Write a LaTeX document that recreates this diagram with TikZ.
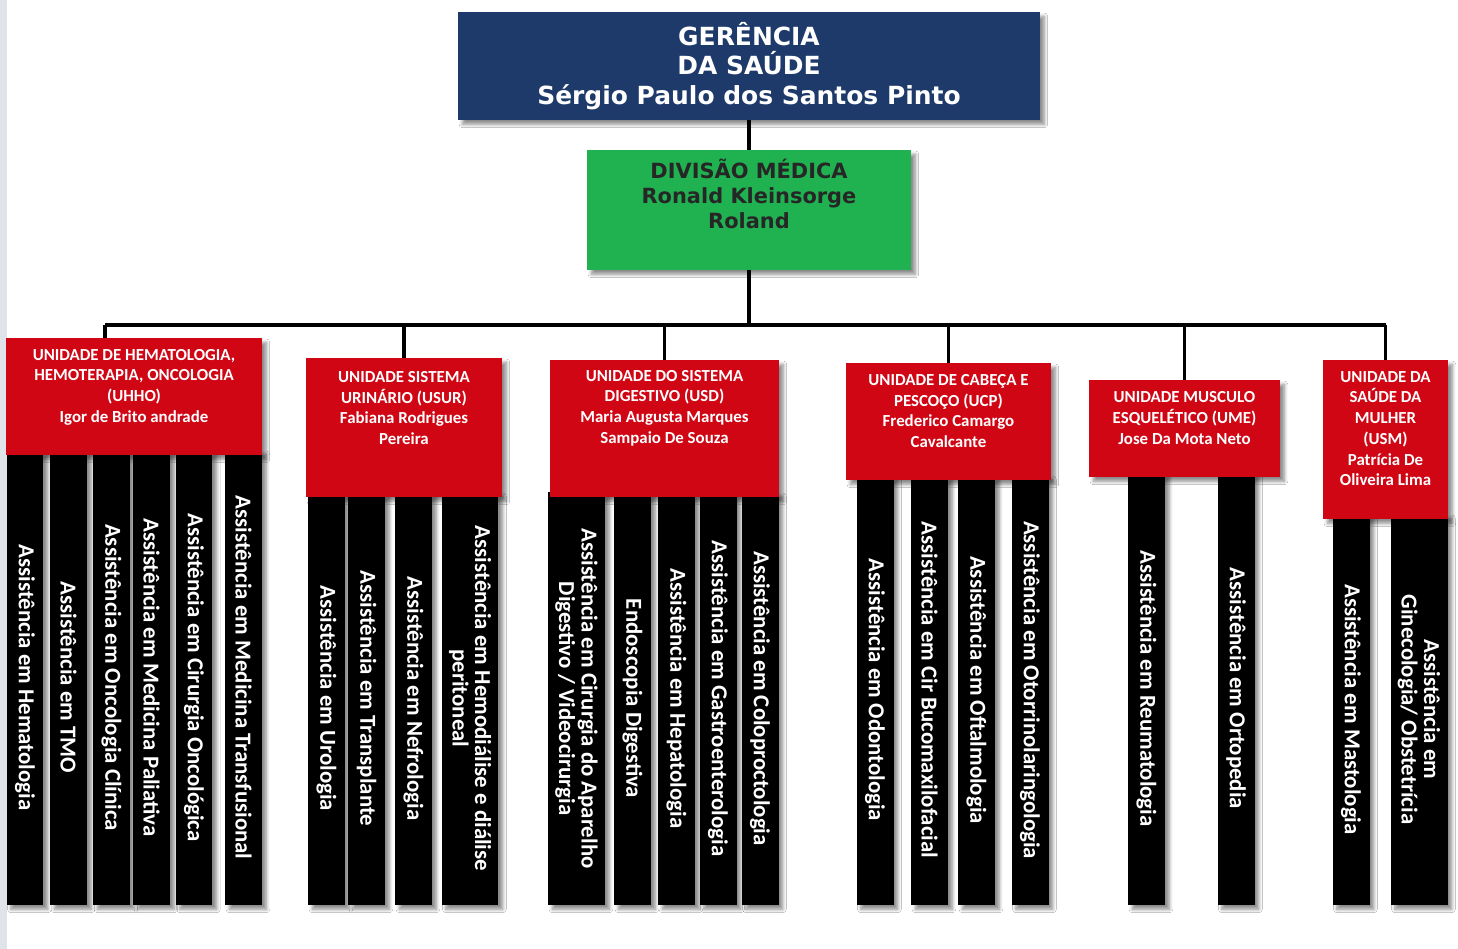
\documentclass[tikz,border=0pt]{standalone}
\usepackage{fontspec}
\setmainfont{Carlito}
\newfontfamily\verdanafont{DejaVu Sans}
\usetikzlibrary{shadows.blur}

\definecolor{gerblue}{RGB}{30,58,106}
\definecolor{divgreen}{RGB}{32,178,80}
\definecolor{unitred}{RGB}{208,6,20}
\definecolor{stripgray}{RGB}{222,228,234}

\tikzset{
  boxshadow/.style={blur shadow={shadow xshift=2.5pt, shadow yshift=-2.5pt, shadow opacity=45, shadow blur steps=6}},
  conn/.style={line width=2pt},
  gerbox/.style={fill=gerblue, boxshadow, minimum width=11.64cm, minimum height=2.16cm, inner sep=0pt,
    text=white, align=center, font=\verdanafont\bfseries\fontsize{14.2}{17}\selectfont},
  divbox/.style={fill=divgreen, boxshadow, minimum width=6.48cm, minimum height=2.4cm, inner sep=0pt},
  divtext/.style={inner sep=0pt, align=center, text=black!85, font=\verdanafont\bfseries\fontsize{11.9}{14.2}\selectfont},
  unitbox/.style={fill=unitred, boxshadow, inner sep=0pt},
  unittext/.style={inner sep=0pt, align=center, text=white, font=\bfseries\fontsize{9.6}{11.8}\selectfont},
  servbox/.style={fill=black, boxshadow, rotate=-90, inner sep=0pt, minimum width=#1, minimum height=0.74cm,
    align=center, text=white, font=\bfseries\fontsize{13}{12.8}\selectfont},
  servwide/.style={servbox=#1, minimum height=1.14cm}
}

\begin{document}
\begin{tikzpicture}[x=0.02cm, y=-0.02cm]
\useasboundingbox (0,0) rectangle (1458,949);
\fill[white] (0,0) rectangle (1458,949);
\fill[stripgray] (0,0) rectangle (7,949);

\node[gerbox] (ger) at (749,66) {GERÊNCIA\\DA SAÚDE\\Sérgio Paulo dos Santos Pinto};
\node[divbox] (div) at (749,210) {};
\node[divtext] (divT) at (749,194) {DIVISÃO MÉDICA\\Ronald Kleinsorge\\Roland};

% UHHO
\node[servbox=9.1cm] (hema) at (25,677.5) {Assistência em Hematologia};
\node[servbox=9.1cm] (tmo) at (68.5,677.5) {Assistência em TMO};
\node[servbox=9.1cm] (onco) at (111.5,677.5) {Assistência em Oncologia Clínica};
\node[servbox=9.1cm] (pali) at (151.5,677.5) {Assistência em Medicina Paliativa};
\node[servbox=9.1cm] (ciro) at (194,677.5) {Assistência em Cirurgia Oncológica};
\node[servbox=9.1cm] (tran) at (243.5,677.5) {Assistência em Medicina Transfusional};

% USUR
\node[servbox=8.26cm] (urol) at (326.5,698.5) {Assistência em Urologia};
\node[servbox=8.26cm] (tpla) at (366.5,698.5) {Assistência em Transplante};
\node[servbox=8.26cm] (nefr) at (413.5,698.5) {Assistência em Nefrologia};
\node[servwide=8.26cm] (hemo) at (470,698.5) {Assistência em Hemodiálise e diálise\\peritoneal};

% USD
\node[servwide=8.26cm] (apar) at (576.5,698.5) {Assistência em Cirurgia do Aparelho\\Digestivo / Videocirurgia};
\node[servbox=8.26cm] (endo) at (632.5,698.5) {Endoscopia Digestiva};
\node[servbox=8.26cm] (hepa) at (676.5,698.5) {Assistência em Hepatologia};
\node[servbox=8.26cm] (gast) at (718,698.5) {Assistência em Gastroenterologia};
\node[servbox=8.26cm] (colo) at (760,698.5) {Assistência em Coloproctologia};

% UCP
\node[servbox=8.6cm] (odon) at (875,690) {Assistência em Odontologia};
\node[servbox=8.6cm] (buco) at (929.5,690) {Assistência em Cir Bucomaxilofacial};
\node[servbox=8.6cm] (ofta) at (976.5,690) {Assistência em Oftalmologia};
\node[servbox=8.6cm] (otor) at (1030,690) {Assistência em Otorrinolaringologia};

% UME
\node[servbox=8.66cm] (reum) at (1146.5,688.5) {Assistência em Reumatologia};
\node[servbox=8.66cm] (orto) at (1236,688.5) {Assistência em Ortopedia};

% USM
\node[servbox=7.82cm] (mast) at (1351,709.5) {Assistência em Mastologia};
\node[servwide=7.82cm] (gine) at (1419,709.5) {Assistência em\\Ginecologia/ Obstetrícia};

\node[unitbox, minimum width=5.12cm, minimum height=2.34cm] (uhho) at (134,396.5) {};
\node[unitbox, minimum width=3.92cm, minimum height=2.78cm] (usur) at (404,427.5) {};
\node[unitbox, minimum width=4.58cm, minimum height=2.74cm] (usd) at (664.5,428.5) {};
\node[unitbox, minimum width=4.1cm, minimum height=2.34cm] (ucp) at (948.5,421.5) {};
\node[unitbox, minimum width=3.82cm, minimum height=1.94cm] (ume) at (1184.5,428.5) {};
\node[unitbox, minimum width=2.5cm, minimum height=3.18cm] (usm) at (1385.5,439.5) {};

\node[unittext] (uhhoT) at (134,387) {UNIDADE DE HEMATOLOGIA,\\HEMOTERAPIA, ONCOLOGIA\\(UHHO)\\Igor de Brito andrade};
\node[unittext] (usurT) at (404,408) {UNIDADE SISTEMA\\URINÁRIO (USUR)\\Fabiana Rodrigues\\Pereira};
\node[unittext] (usdT) at (664.5,408) {UNIDADE DO SISTEMA\\DIGESTIVO (USD)\\Maria Augusta Marques\\Sampaio De Souza};
\node[unittext] (ucpT) at (948.5,411) {UNIDADE DE CABEÇA E\\PESCOÇO (UCP)\\Frederico Camargo\\Cavalcante};
\node[unittext] (umeT) at (1184.5,418) {UNIDADE MUSCULO\\ESQUELÉTICO (UME)\\Jose Da Mota Neto};
\node[unittext] (usmT) at (1385.5,428.5) {UNIDADE DA\\SAÚDE DA\\MULHER\\(USM)\\Patrícia De\\Oliveira Lima};

\coordinate (busL) at (105,325);
\coordinate (busR) at (1385.5,325);
\draw[conn] (ger.south) -- (div.north);
\draw[conn] (div.south) -- (div.south |- busL);
\draw[conn] (busL) -- (busR);
\draw[conn] (busL) -- (busL |- uhho.north);
\draw[conn] (usur.north |- busL) -- (usur.north);
\draw[conn] (usd.north |- busL) -- (usd.north);
\draw[conn] (ucp.north |- busL) -- (ucp.north);
\draw[conn] (ume.north |- busL) -- (ume.north);
\draw[conn] (busR) -- (usm.north);
\end{tikzpicture}
\end{document}
